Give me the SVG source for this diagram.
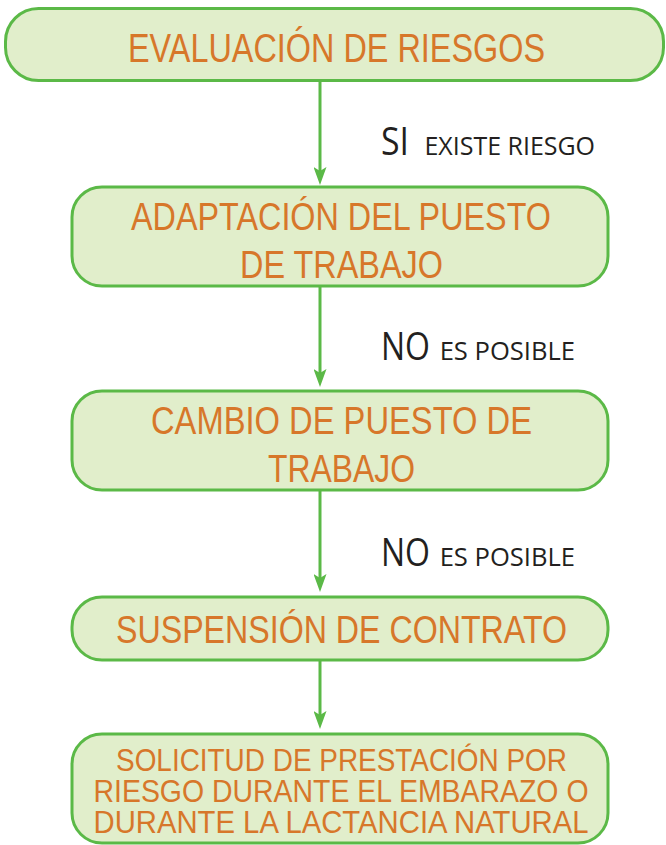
<svg xmlns="http://www.w3.org/2000/svg" width="666" height="845" viewBox="0 0 666 845">
<style>
.box{fill:#e1eecb;stroke:#5bb947;stroke-width:3}
.nt{font-family:"Liberation Sans Narrow","Liberation Sans",sans-serif;font-size:39px;fill:#d7772a;text-anchor:middle}
.nt.s{font-size:32px}
.lb{font-family:"Open Sans","Liberation Sans",sans-serif;fill:#231f20}
.big{font-size:38px}
.sm{font-size:26px}
.con{stroke:#5bb947;stroke-width:3;fill:none}
</style>
<defs>
<marker id="ah" markerUnits="userSpaceOnUse" markerWidth="18" markerHeight="13" viewBox="0 0 18 13" refX="4" refY="6.5" orient="auto">
<path d="M0,0 L18,6.5 L0,13 L4,6.5 z" fill="#5bb947"/>
</marker>
</defs>
<g id="connectors">
<line class="con" x1="320" y1="81" x2="320" y2="171" marker-end="url(#ah)"/>
<line class="con" x1="320" y1="286" x2="320" y2="373" marker-end="url(#ah)"/>
<line class="con" x1="320" y1="490" x2="320" y2="578" marker-end="url(#ah)"/>
<line class="con" x1="320" y1="661" x2="320" y2="715" marker-end="url(#ah)"/>
</g>
<g id="labels">
<text class="lb" y="155"><tspan class="big" x="381" textLength="28" lengthAdjust="spacingAndGlyphs">SI</tspan><tspan class="sm" x="418" textLength="177" lengthAdjust="spacingAndGlyphs"> EXISTE RIESGO</tspan></text>
<text class="lb" y="360"><tspan class="big" x="381" textLength="49" lengthAdjust="spacingAndGlyphs">NO</tspan><tspan class="sm" x="433" textLength="142" lengthAdjust="spacingAndGlyphs"> ES POSIBLE</tspan></text>
<text class="lb" y="566"><tspan class="big" x="381" textLength="49" lengthAdjust="spacingAndGlyphs">NO</tspan><tspan class="sm" x="433" textLength="142" lengthAdjust="spacingAndGlyphs"> ES POSIBLE</tspan></text>
</g>
<g id="n1">
<rect class="box" x="5.5" y="8.5" width="658" height="72" rx="33"/>
<text class="nt" x="336.5" y="62" textLength="417" lengthAdjust="spacingAndGlyphs" style="font-size:40px">EVALUACIÓN DE RIESGOS</text>
</g>
<g id="n2">
<rect class="box" x="72" y="187" width="536" height="99" rx="30"/>
<text class="nt" x="341" y="230" textLength="420" lengthAdjust="spacingAndGlyphs">ADAPTACIÓN DEL PUESTO</text>
<text class="nt" x="341.5" y="278" textLength="203" lengthAdjust="spacingAndGlyphs">DE TRABAJO</text>
</g>
<g id="n3">
<rect class="box" x="72" y="391" width="536" height="99" rx="30"/>
<text class="nt" x="341.5" y="434" textLength="381" lengthAdjust="spacingAndGlyphs">CAMBIO DE PUESTO DE</text>
<text class="nt" x="341.5" y="482" textLength="147" lengthAdjust="spacingAndGlyphs">TRABAJO</text>
</g>
<g id="n4">
<rect class="box" x="72" y="597" width="536" height="63" rx="30"/>
<text class="nt" x="341.5" y="643" textLength="451" lengthAdjust="spacingAndGlyphs">SUSPENSIÓN DE CONTRATO</text>
</g>
<g id="n5">
<rect class="box" x="72" y="734" width="536" height="109" rx="30"/>
<text class="nt s" x="341.5" y="771" textLength="451" lengthAdjust="spacingAndGlyphs">SOLICITUD DE PRESTACIÓN POR</text>
<text class="nt s" x="341" y="802" textLength="495" lengthAdjust="spacingAndGlyphs">RIESGO DURANTE EL EMBARAZO O</text>
<text class="nt s" x="341" y="833" textLength="495" lengthAdjust="spacingAndGlyphs">DURANTE LA LACTANCIA NATURAL</text>
</g>
</svg>
